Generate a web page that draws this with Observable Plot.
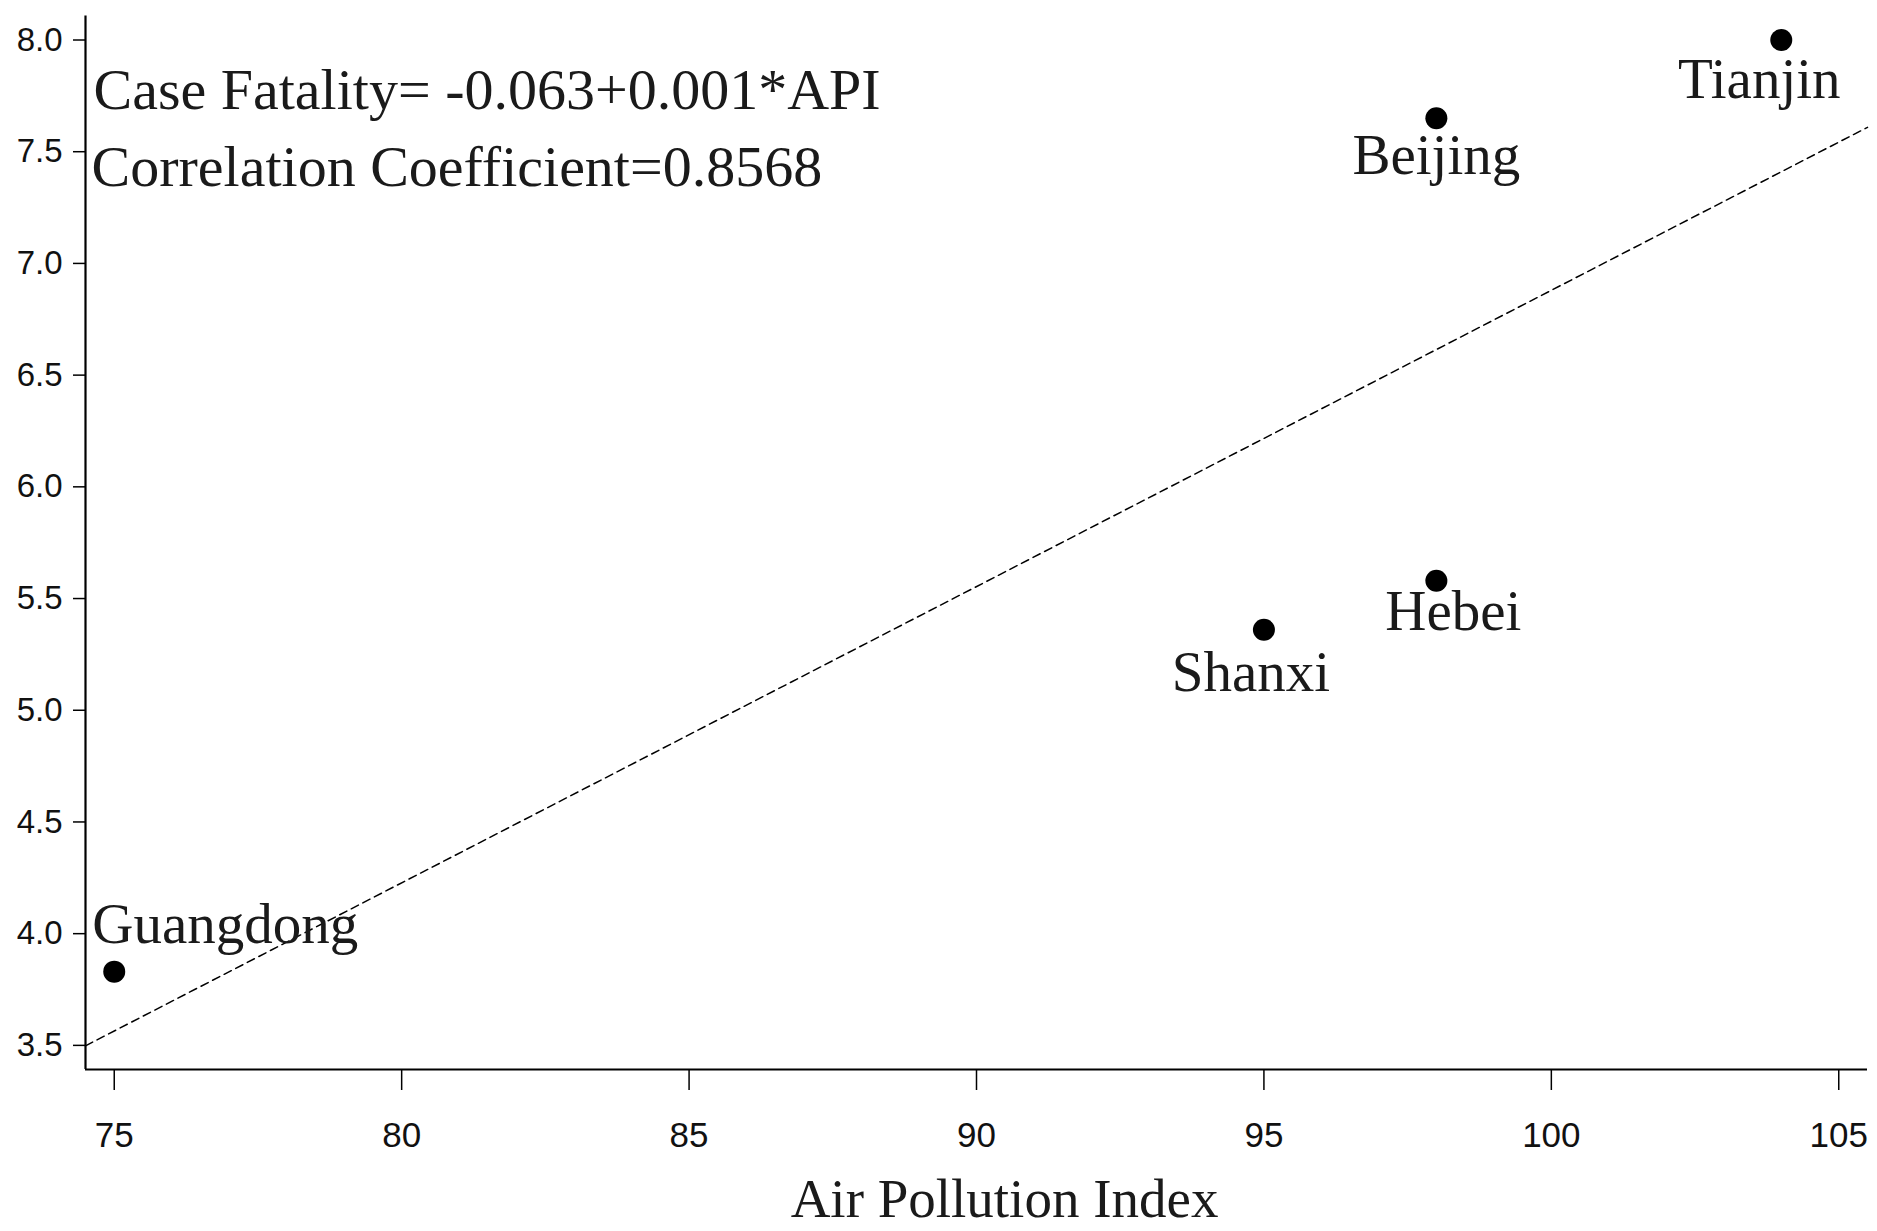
<!DOCTYPE html>
<html>
<head>
<meta charset="utf-8">
<script src="https://cdn.jsdelivr.net/npm/d3@7"></script>
<script src="https://cdn.jsdelivr.net/npm/@observablehq/plot@0.6"></script>
<style>
  html, body { margin: 0; padding: 0; background: #ffffff; }
  #chart svg { display: block; }
</style>
</head>
<body>
<div id="chart"></div>
<script>
// ---- data ----
const provinces = ["Guangdong", "Shanxi", "Hebei", "Beijing", "Tianjin"];
const airPollutionIndex = [75, 95, 98, 98, 104];
const caseFatality = [3.83, 5.36, 5.58, 7.65, 8.0];
const xTicks = [75, 80, 85, 90, 95, 100, 105];
const yTicks = [3.5, 4.0, 4.5, 5.0, 5.5, 6.0, 6.5, 7.0, 7.5, 8.0];
const xDomain = [74.5, 105.5];
const yDomain = [3.392, 8.107];
const equationText = "Case Fatality= -0.063+0.001*API";
const correlationText = "Correlation Coefficient=0.8568";
const xTitle = "Air Pollution Index";

// ---- table built from the arrays ----
const points = provinces.map((name, i) => ({name, api: airPollutionIndex[i], cf: caseFatality[i]}));

// least-squares fit drawn across the x axis range
const mx = d3.mean(airPollutionIndex), my = d3.mean(caseFatality);
const slope = d3.sum(airPollutionIndex.map((x, i) => (x - mx) * (caseFatality[i] - my))) /
              d3.sum(airPollutionIndex.map(x => (x - mx) ** 2));
const intercept = my - slope * mx;
const fitLine = xDomain.map(x => ({api: x, cf: intercept + slope * x}));

// label placement (style, relative to each point)
const labelStyle = {
  Guangdong: {dx: -22, dy: -29, textAnchor: "start"},
  Shanxi:    {dx: -13, dy: 61, textAnchor: "middle"},
  Hebei:     {dx: 17, dy: 49, textAnchor: "middle"},
  Beijing:   {dx: 0, dy: 56, textAnchor: "middle"},
  Tianjin:   {dx: -22, dy: 58, textAnchor: "middle"}
};

const serif = "'Liberation Serif', 'Times New Roman', serif";
const sans = "'Liberation Sans Narrow', 'Liberation Sans', Arial, sans-serif";

const chart = Plot.plot({
  width: 1877,
  height: 1231,
  marginTop: 15.6,
  marginLeft: 85,
  marginRight: 10,
  marginBottom: 162,
  style: {background: "#ffffff", color: "#000"},
  x: {domain: xDomain},
  y: {domain: yDomain},
  marks: [
    Plot.axisY({ticks: yTicks, tickFormat: d3.format(".1f"), tickSize: 12, tickPadding: 11,
      fontSize: 33, fontFamily: sans, label: null, strokeWidth: 1.5, fill: "#111"}),
    Plot.axisX({ticks: xTicks, tickFormat: d => String(d), tickSize: 21, tickPadding: 32,
      fontSize: 35, fontFamily: sans, label: null, strokeWidth: 1.5, fill: "#111"}),
    Plot.ruleX([xDomain[0]], {stroke: "#000", strokeWidth: 2.2}),
    Plot.ruleY([yDomain[0]], {stroke: "#000", strokeWidth: 2.2}),
    Plot.line(fitLine, {x: "api", y: "cf", stroke: "#000", strokeWidth: 1.5, strokeDasharray: "8,5"}),
    Plot.dot(points, {x: "api", y: "cf", r: 11, fill: "#000", stroke: "none"}),
    ...points.map(p => Plot.text([p], {
      x: "api", y: "cf", text: "name",
      dx: labelStyle[p.name].dx, dy: labelStyle[p.name].dy,
      textAnchor: labelStyle[p.name].textAnchor, lineAnchor: "bottom",
      fontSize: 57, fontFamily: serif, fill: "#1a1a1a"
    })),
    Plot.text([equationText], {frameAnchor: "top-left", lineAnchor: "bottom", textAnchor: "start",
      dx: 8, dy: 92.4, fontSize: 58, fontFamily: serif, fill: "#1a1a1a"}),
    Plot.text([correlationText], {frameAnchor: "top-left", lineAnchor: "bottom", textAnchor: "start",
      dx: 6, dy: 169.4, fontSize: 58, fontFamily: serif, fill: "#1a1a1a"}),
    Plot.text([xTitle], {frameAnchor: "bottom", lineAnchor: "bottom", textAnchor: "middle",
      dx: 28, dy: 147, fontSize: 55, fontFamily: serif, fill: "#1a1a1a"})
  ]
});
document.getElementById("chart").appendChild(chart);
</script>
</body>
</html>
